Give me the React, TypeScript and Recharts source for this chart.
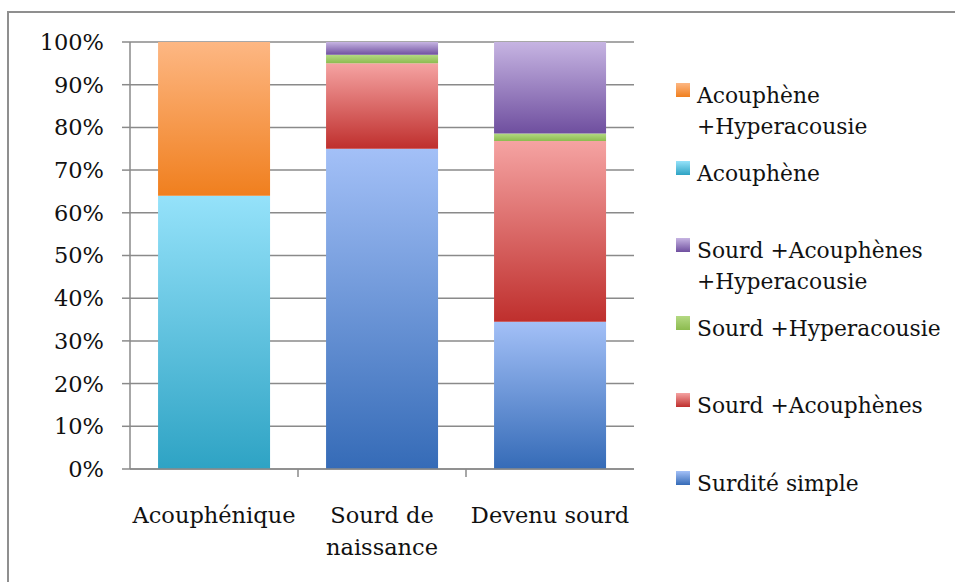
import React from "react";
import { BarChart, Bar, XAxis, YAxis, CartesianGrid, Legend } from "recharts";

// Categories (line breaks mark where the axis label wraps)
const categories = ["Acouphénique", "Sourd de\nnaissance", "Devenu sourd"];

// Share of each group, in percent, stacked bottom to top
const surditeSimple = [0, 75, 34.5];
const sourdAcouphenes = [0, 20, 42.3];
const sourdHyperacousie = [0, 2, 1.8];
const sourdAcouHyper = [0, 3, 21.4];
const acouphene = [64, 0, 0];
const acoupheneHyper = [36, 0, 0];

const percentTicks = [0, 10, 20, 30, 40, 50, 60, 70, 80, 90, 100];

const FONT = "'DejaVu Serif', serif";
const GRID = "#8a8a8a";
const INK = "#111";

const series = [
  { key: "surdite", name: "Surdité simple", values: surditeSimple, top: "#a3c0f7", bottom: "#356bb7" },
  { key: "sourdAcou", name: "Sourd +Acouphènes", values: sourdAcouphenes, top: "#f5a3a2", bottom: "#bf2f2d" },
  { key: "sourdHyper", name: "Sourd +Hyperacousie", values: sourdHyperacousie, top: "#b4d983", bottom: "#8cbb4f" },
  { key: "sourdAcouHyper", name: "Sourd +Acouphènes\n+Hyperacousie", values: sourdAcouHyper, top: "#c6b4e2", bottom: "#6f4f9f" },
  { key: "acou", name: "Acouphène", values: acouphene, top: "#95e2fa", bottom: "#2ea3c4" },
  { key: "acouHyper", name: "Acouphène\n+Hyperacousie", values: acoupheneHyper, top: "#fdb783", bottom: "#f07f1e" },
];

const data = categories.map((c, i) => {
  const row: Record<string, string | number> = { category: c };
  series.forEach((s) => {
    row[s.key] = s.values[i];
  });
  return row;
});

const CategoryTick = (props: any) => {
  const { x, y, payload } = props;
  const lines = String(payload.value).split("\n");
  const half = payload.offset || 0;
  return (
    <g>
      {payload.index < categories.length - 1 && (
        <line x1={x + half} x2={x + half} y1={y - 8} y2={y} stroke={GRID} strokeWidth={1.5} />
      )}
      <text x={x} y={y} textAnchor="middle" fontFamily={FONT} fontSize={22.5} fill={INK}>
        {lines.map((l, i) => (
          <tspan key={i} x={x} dy={i === 0 ? 46 : 32}>
            {l}
          </tspan>
        ))}
      </text>
    </g>
  );
};

const LegendBox = () => {
  const items = [...series].reverse();
  return (
    <div style={{ position: "relative", width: 955, height: 582 }}>
      {items.map((s, i) => {
        const top = 80 + i * 77.5;
        return (
          <div key={s.key} style={{ position: "absolute", left: 0, top, width: 270 }}>
            <div
              style={{
                position: "absolute",
                left: 676,
                top: 3,
                width: 14,
                height: 14,
                background: `linear-gradient(${s.top}, ${s.bottom})`,
              }}
            />
            <div
              style={{
                position: "absolute",
                left: 697,
                top: 0,
                width: 260,
                whiteSpace: "pre-line",
                fontFamily: FONT,
                fontSize: 21.8,
                lineHeight: "31px",
                color: INK,
                textAlign: "left",
              }}
            >
              {s.name}
            </div>
          </div>
        );
      })}
    </div>
  );
};

export default function App() {
  return (
    <div style={{ position: "absolute", left: 0, top: 0, width: 955, height: 582, background: "#fff" }}>
      <div
        style={{
          position: "absolute",
          left: 7,
          top: 11,
          right: 0,
          bottom: 0,
          borderTop: "2px solid #8f8f8f",
          borderLeft: "2px solid #8f8f8f",
        }}
      />
      <BarChart
        width={955}
        height={582}
        data={data}
        margin={{ top: 42, right: 321, bottom: 33, left: 8 }}
        barCategoryGap="16.7%"
      >
        <defs>
          {series.map((s) => (
            <linearGradient key={s.key} id={`grad-${s.key}`} x1="0" y1="0" x2="0" y2="1">
              <stop offset="0%" stopColor={s.top} />
              <stop offset="100%" stopColor={s.bottom} />
            </linearGradient>
          ))}
        </defs>
        <CartesianGrid vertical={false} stroke={GRID} strokeWidth={1.5} />
        <XAxis
          dataKey="category"
          height={80}
          axisLine={{ stroke: GRID, strokeWidth: 1.5 }}
          tickLine={false}
          tick={<CategoryTick />}
          interval={0}
        />
        <YAxis
          width={122}
          domain={[0, 100]}
          ticks={percentTicks}
          tickFormatter={(v: number) => `${v}%`}
          axisLine={{ stroke: GRID, strokeWidth: 1.5 }}
          tickLine={{ stroke: GRID, strokeWidth: 1.5 }}
          tickSize={8}
          tickMargin={18}
          tick={{ fontFamily: FONT, fontSize: 22.5, fill: INK }}
          interval={0}
        />
        {series.map((s) => (
          <Bar
            key={s.key}
            dataKey={s.key}
            name={s.name}
            stackId="a"
            fill={`url(#grad-${s.key})`}
            isAnimationActive={false}
          />
        ))}
        <Legend
          layout="vertical"
          align="center"
          verticalAlign="middle"
          wrapperStyle={{ left: 0, top: 0, width: 955, height: 582, pointerEvents: "none" }}
          content={<LegendBox />}
        />
      </BarChart>
    </div>
  );
}
